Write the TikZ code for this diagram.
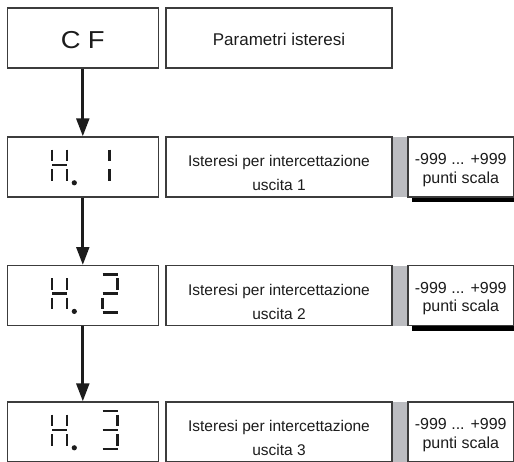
\documentclass[tikz,border=0pt]{standalone}
\usepackage{fontspec}
\setmainfont{Liberation Sans}
\usetikzlibrary{arrows.meta}
\definecolor{edge}{RGB}{60,60,60}
\definecolor{ink}{RGB}{28,28,28}
\definecolor{sidebar}{RGB}{188,189,193}

\tikzset{
  box/.style={draw=edge, line width=1.1pt, fill=white, minimum width=#1,
              minimum height=60pt, inner sep=0pt, text=ink},
  bar/.style={fill=sidebar, minimum width=16pt, minimum height=60pt, inner sep=0pt},
  shade/.style={fill=black, minimum width=105.5pt, minimum height=60pt, inner sep=0pt},
  desctext/.style={align=center, inner sep=0pt, text=ink,
               font=\fontsize{15.5}{24}\selectfont},
  rangetext/.style={align=center, inner sep=0pt, text=ink,
                font=\fontsize{16}{18.4}\selectfont},
  flow/.style={draw=ink, line width=3.3pt, -{Triangle[length=18pt,width=12.5pt]}},
  seg/.style={draw=ink, line width=2.4pt},
  % seven-segment glyphs, origin = left edge / middle bar
  pics/glyphH/.style={code={
    \draw[seg] (0,-15.5)--(0,-4) (0,4)--(0,15.5)
               (15,-15.5)--(15,-4) (15,4)--(15,15.5) (0,0)--(15,0);
    \fill[ink] (22.3,17.8) circle (2.6);}},
  pics/glyphOne/.style={code={
    \draw[seg] (7,-15.5)--(7,-4) (7,4)--(7,15.5);}},
  pics/glyphTwo/.style={code={
    \draw[seg] (0,-19)--(15,-19) (15,-15.5)--(15,-4) (0,0)--(15,0)
               (0,4)--(0,15.5) (0,19)--(15,19);}},
  pics/glyphThree/.style={code={
    \draw[seg] (0,-19)--(15,-19) (15,-15.5)--(15,-4) (0,0)--(15,0)
               (15,4)--(15,15.5) (0,19)--(15,19);}},
}

\begin{document}
\begin{tikzpicture}[x=1pt, y=-1pt]
  \useasboundingbox (0,0) rectangle (514,461);
  \clip (0,0) rectangle (514,461);

  % header row
  \node[box=150.5pt, text height=21.8pt, text depth=0pt] (d0) at (82.8,38)
    {\scalebox{1.12}[1]{\fontsize{24.5}{28}\selectfont C\hspace{6.5pt}F}};
  \node[box=226pt, text height=14pt, text depth=0pt,
        font=\fontsize{17}{20}\selectfont] (m0) at (279,38) {Parametri isteresi};

  % parameter rows
  \foreach \k/\y/\g in {1/167/glyphOne, 2/295.6/glyphTwo, 3/432/glyphThree} {
    \node[bar]   (g\k) at (400,\y) {};
    \node[shade] (s\k) at (465,\y+5) {};
    \node[box=150.5pt] (d\k) at (82.8,\y) {};
    \node[box=226pt]   (m\k) at (279,\y) {};
    \node[box=105.5pt] (r\k) at (460.75,\y) {};
    \pic at (52,\y-2) {glyphH};
    \pic at (102.5,\y-2) {\g};
    \node[desctext]  (t\k) at ([yshift=-6pt]m\k.center)
      {Isteresi per intercettazione\\uscita \k};
    \node[rangetext] (v\k) at ([yshift=-3pt]r\k.center) {-999 ... +999\\punti scala};
  }

  % connectors
  \draw[flow] (d0.south) -- (d1.north);
  \draw[flow] (d1.south) -- (d2.north);
  \draw[flow] (d2.south) -- (d3.north);
\end{tikzpicture}
\end{document}
